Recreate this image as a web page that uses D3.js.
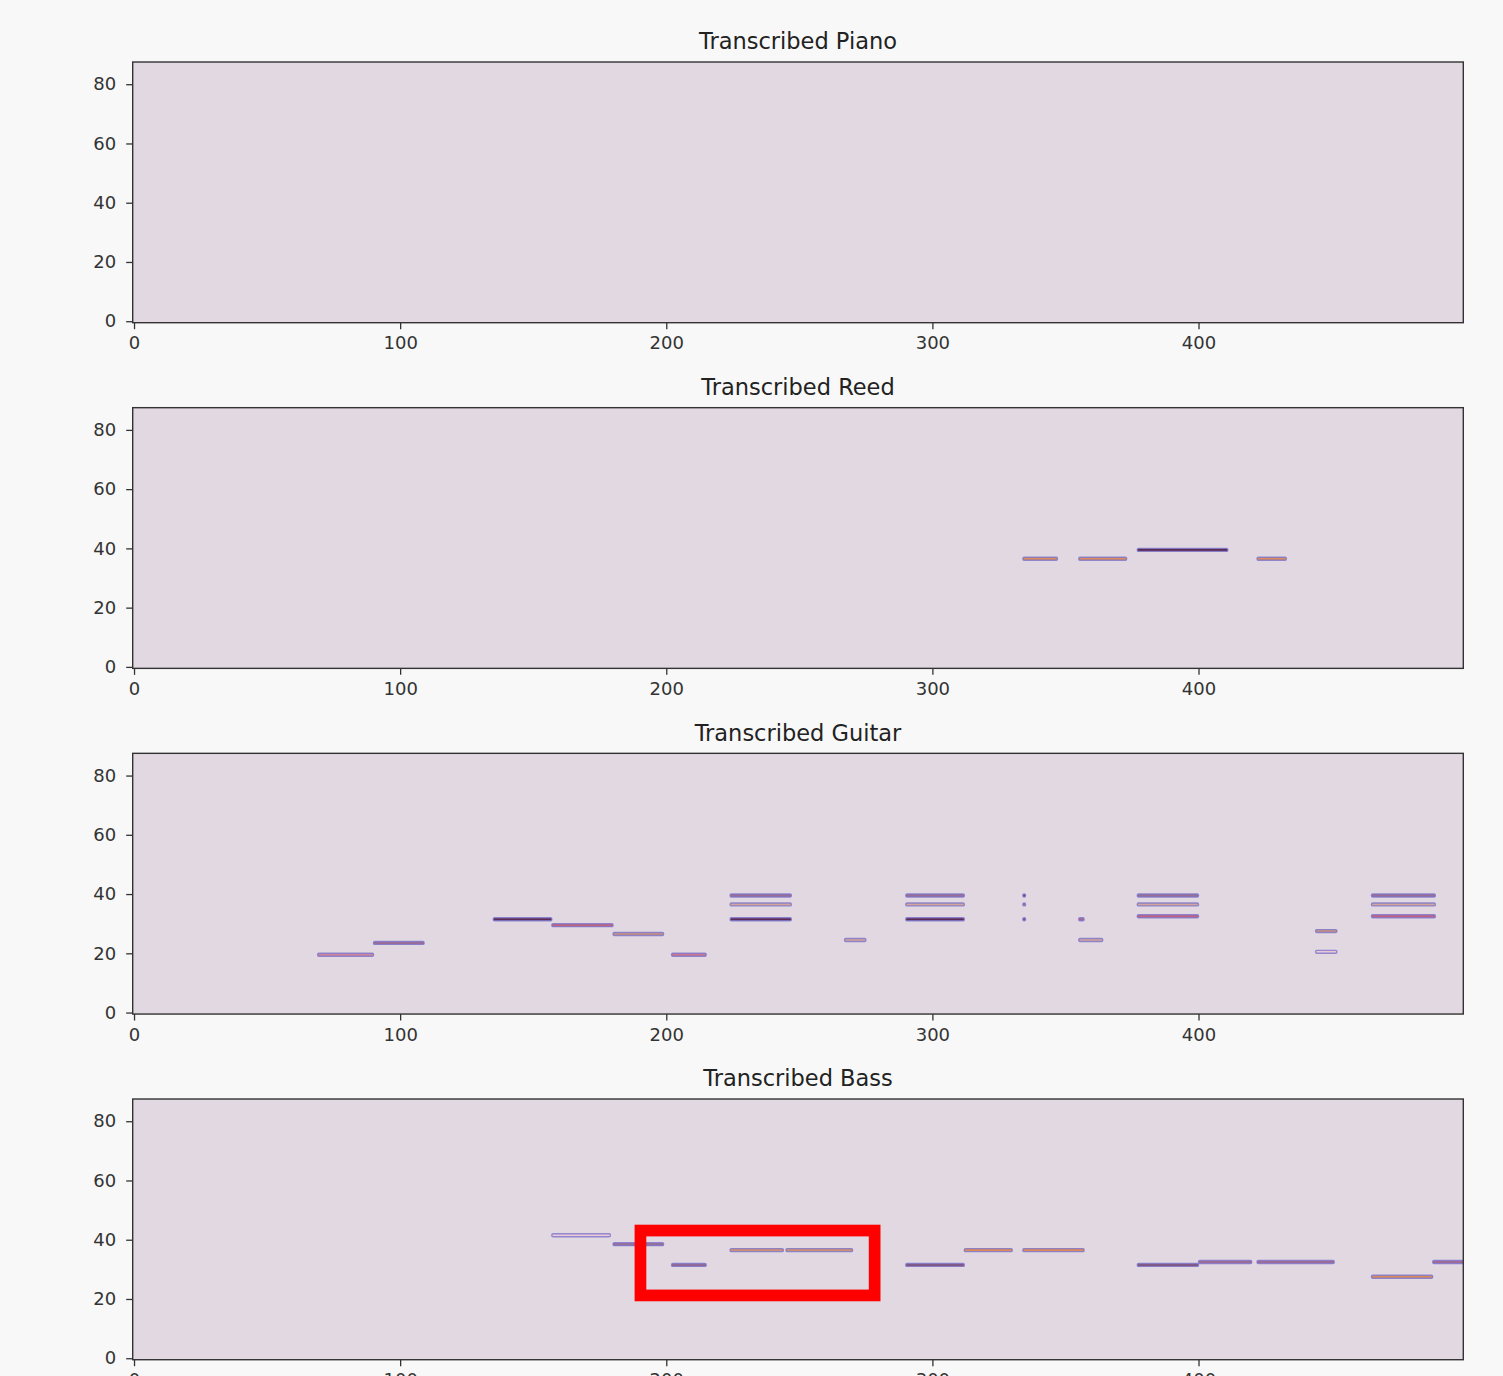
<!DOCTYPE html>
<html>
<head>
<meta charset="utf-8">
<script src="https://cdn.jsdelivr.net/npm/d3@7"></script>
<style>
  html, body { margin: 0; padding: 0; background: #f8f8f8; overflow: hidden; }
  svg { display: block; }
</style>
</head>
<body>
<svg id="chart" width="1503" height="1376"></svg>
<script>
// ---------------- DATA ----------------
const instruments = ["Piano", "Reed", "Guitar", "Bass"];
const xTicks = [0, 100, 200, 300, 400];
const yTicks = [0, 20, 40, 60, 80];
const frameDomain = [-0.5, 499.5];
const pitchDomain = [-0.5, 87.5];

// notes: [startFrame, endFrame, pitch, intensity]
const pianoNotes = [];
const reedNotes = [
  [334, 347, 36, 120], [355, 373, 36, 120], [377, 411, 39, 30], [422, 433, 36, 120]
];
const guitarNotes = [
  [69, 90, 19, 80], [90, 109, 23, 55], [135, 157, 31, 30], [157, 180, 29, 75],
  [180, 199, 26, 105], [202, 215, 19, 78],
  [224, 247, 39, 50], [224, 247, 36, 100], [224, 247, 31, 30],
  [267, 275, 24, 100],
  [290, 312, 39, 50], [290, 312, 36, 100], [290, 312, 31, 30],
  [334, 335, 39, 35], [334, 335, 36, 60], [334, 335, 31, 40],
  [355, 357, 31, 60], [355, 364, 24, 100],
  [377, 400, 39, 50], [377, 400, 36, 100], [377, 400, 32, 75],
  [444, 452, 27, 105], [444, 452, 20, 90],
  [465, 489, 39, 50], [465, 489, 36, 100], [465, 489, 32, 75]
];
const bassNotes = [
  [157, 179, 41, 90], [180, 199, 38, 50], [202, 215, 31, 48], [224, 244, 36, 110],
  [245, 270, 36, 110], [290, 312, 31, 42], [312, 330, 36, 120], [334, 357, 36, 120],
  [377, 400, 31, 42], [400, 420, 32, 58], [422, 451, 32, 58], [465, 488, 27, 120],
  [488, 500, 32, 58]
];
const panelNotes = [pianoNotes, reedNotes, guitarNotes, bassNotes];

// highlighted region (in Bass panel): frames x pitches
const highlightPanel = 3;
const highlightFrames = [190.3, 278.3];
const highlightPitches = [21.2, 43.1];

// ---------------- LAYOUT ----------------
const svg = d3.select("#chart");
const left = 132.7, right = 1463.3;
const panelTop0 = 62, panelH = 260.7, panelStep = 345.67;
const font = "DejaVu Sans, Verdana, sans-serif";

const x = d3.scaleLinear().domain(frameDomain).range([left, right]);
const colour = d3.scaleLinear()
  .domain([30, 50, 75, 90, 105, 120])
  .range(["#5e2b52", "#9a6e93", "#c4627e", "#ecc8d6", "#c9937f", "#dc8a5c"])
  .clamp(true);

instruments.forEach((name, i) => {
  const top = panelTop0 + i * panelStep;
  const bottom = top + panelH;
  const y = d3.scaleLinear().domain(pitchDomain).range([bottom, top]);
  const g = svg.append("g");

  // background
  g.append("rect")
    .attr("x", left).attr("y", top)
    .attr("width", right - left).attr("height", panelH)
    .attr("fill", "#e2d8e2");

  const clipId = "clip" + i;
  svg.append("clipPath").attr("id", clipId)
    .append("rect").attr("x", left).attr("y", top)
    .attr("width", right - left).attr("height", panelH);

  // notes
  g.append("g").attr("clip-path", `url(#${clipId})`)
    .selectAll("rect")
    .data(panelNotes[i])
    .join("rect")
    .attr("x", d => x(d[0]))
    .attr("y", d => y(d[2] + 1))
    .attr("width", d => Math.max(1.5, x(d[1]) - x(d[0])))
    .attr("height", d => y(d[2]) - y(d[2] + 1))
    .attr("rx", 1.2)
    .attr("fill", d => colour(d[3]))
    .attr("stroke", "#7b76cc")
    .attr("stroke-opacity", 0.8)
    .attr("stroke-width", 1.4);

  // axes
  const yAxis = d3.axisLeft(y).tickValues(yTicks).tickSize(6.5).tickPadding(10);
  const xAxis = d3.axisBottom(x).tickValues(xTicks).tickSize(6.5).tickPadding(7.5);

  const ya = g.append("g").attr("transform", `translate(${left},0)`).call(yAxis);
  const xa = g.append("g").attr("transform", `translate(0,${bottom})`).call(xAxis);
  [ya, xa].forEach(a => {
    a.select(".domain").remove();
    a.selectAll("line").attr("stroke", "#333").attr("stroke-width", 1.3);
    a.selectAll("text").attr("font-family", font).attr("font-size", 18).attr("fill", "#333");
  });

  // frame
  g.append("rect")
    .attr("x", left).attr("y", top)
    .attr("width", right - left).attr("height", panelH)
    .attr("fill", "none").attr("stroke", "#333").attr("stroke-width", 1.4);

  // title
  g.append("text")
    .attr("x", (left + right) / 2).attr("y", top - 12.7)
    .attr("text-anchor", "middle")
    .attr("font-family", font).attr("font-size", 22.5).attr("fill", "#222")
    .text("Transcribed " + name);

  if (i === highlightPanel) {
    g.append("rect")
      .attr("x", x(highlightFrames[0]))
      .attr("y", y(highlightPitches[1]))
      .attr("width", x(highlightFrames[1]) - x(highlightFrames[0]))
      .attr("height", y(highlightPitches[0]) - y(highlightPitches[1]))
      .attr("fill", "none").attr("stroke", "#ff0000").attr("stroke-width", 11.7);
  }
});
</script>
</body>
</html>
